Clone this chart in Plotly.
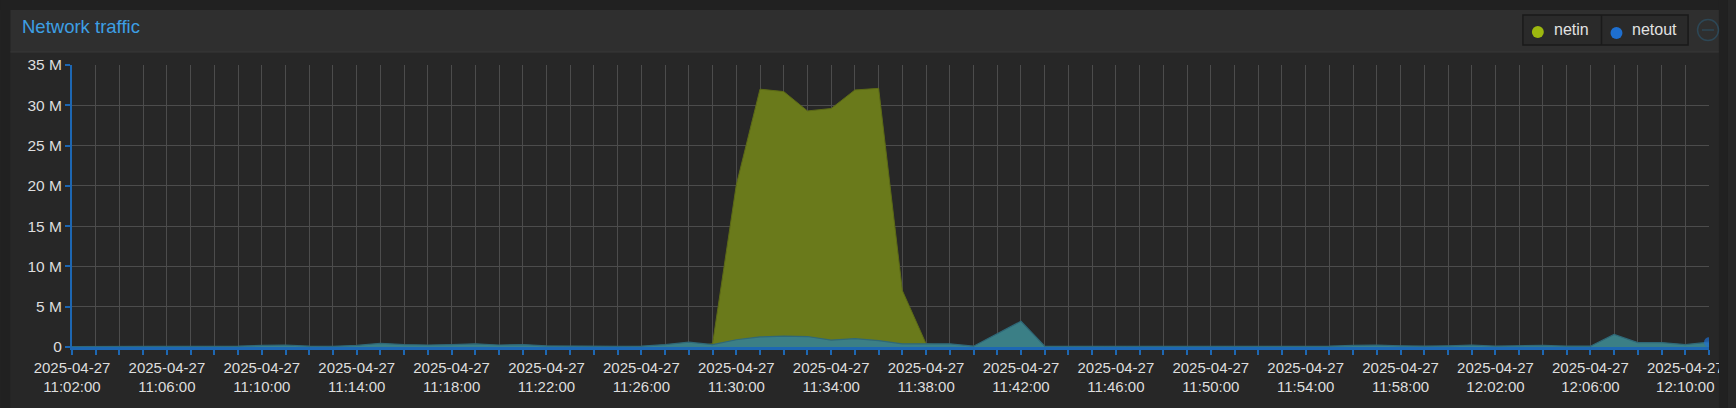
import plotly.graph_objects as go

# ---------------- data ----------------
times = [f"2025-04-27 {11 + (2 + i) // 60:02d}:{(2 + i) % 60:02d}:00" for i in range(70)]  # 11:02 .. 12:11

netin = [0.05, 0.05, 0.05, 0.05, 0.05, 0.05, 0.05, 0.05, 0.05, 0.05,   # 11:02-11:11
         0.05, 0.05, 0.05, 0.05, 0.05, 0.05, 0.05, 0.05, 0.05, 0.05,   # 11:12-11:21
         0.05, 0.05, 0.05, 0.05, 0.05, 0.05, 0.05, 0.4, 20.1, 32.0,    # 11:22-11:31
         31.7, 29.3, 29.6, 31.9, 32.1, 7.0, 0.4, 0.1, 0.05, 0.05,      # 11:32-11:41
         0.05, 0.05, 0.05, 0.05, 0.05, 0.05, 0.05, 0.05, 0.05, 0.05,   # 11:42-11:51
         0.05, 0.05, 0.05, 0.05, 0.05, 0.05, 0.05, 0.05, 0.05, 0.05,   # 11:52-12:01
         0.05, 0.05, 0.05, 0.05, 0.05, 0.05, 0.05, 0.05, 0.05, 0.05]   # 12:02-12:11

netout = [0.05, 0.05, 0.05, 0.05, 0.05, 0.05, 0.08, 0.1, 0.2, 0.25,   # 11:02-11:11
          0.1, 0.08, 0.2, 0.45, 0.3, 0.25, 0.3, 0.4, 0.25, 0.3,       # 11:12-11:21
          0.15, 0.1, 0.08, 0.08, 0.1, 0.3, 0.6, 0.3, 0.9, 1.25,       # 11:22-11:31
          1.35, 1.3, 0.85, 1.05, 0.8, 0.4, 0.4, 0.4, 0.1, 1.6,        # 11:32-11:41
          3.2, 0.1, 0.08, 0.08, 0.08, 0.08, 0.08, 0.08, 0.08, 0.08,   # 11:42-11:51
          0.08, 0.08, 0.08, 0.1, 0.2, 0.25, 0.15, 0.1, 0.15, 0.25,    # 11:52-12:01
          0.1, 0.15, 0.2, 0.1, 0.1, 1.55, 0.55, 0.55, 0.3, 0.6]       # 12:02-12:11

y_ticks = [0, 5, 10, 15, 20, 25, 30, 35]
y_ticktext = ["0", "5 M", "10 M", "15 M", "20 M", "25 M", "30 M", "35 M"]
x_tickvals = times[0:69:4]
x_ticktext = [t.replace(" ", "<br>") for t in x_tickvals]

title_text = "Network traffic"
legend_names = ["netin", "netout"]

# ---------------- style ----------------
W, H = 1736, 408
ML, MR, MT, MB = 72, 19, 65, 61
PW, PH = W - ML - MR, H - MT - MB
FONT = "Liberation Sans, Arial, sans-serif"

OUTER = "#212121"
HEADER = "#2f2f2f"
BODY = "#272727"
GRID = "#4c4c4c"
AXIS = "#1d67b3"
NETIN_FILL = "#6a7a1b"
NETIN_LINE = "#5c6a16"
NETOUT_FILL = "#3b7f86"
NETOUT_LINE = "#2f6878"
LX = 8  # legend horizontal offset


def px(x):
    return (x - ML) / PW


def py(y):
    return (H - MB - y) / PH


fig = go.Figure()
fig.add_trace(go.Scatter(x=times, y=netin, mode="lines", fill="tozeroy",
                         fillcolor=NETIN_FILL, line=dict(color=NETIN_LINE, width=1),
                         name=legend_names[0], showlegend=False, hoverinfo="skip"))
marker_sizes = [0] * (len(netout) - 1) + [10]
fig.add_trace(go.Scatter(x=times, y=netout, mode="lines+markers", fill="tozeroy",
                         fillcolor=NETOUT_FILL, line=dict(color=NETOUT_LINE, width=1.2),
                         marker=dict(size=marker_sizes, color="#1f6fd0", line=dict(width=0)),
                         cliponaxis=True,
                         name=legend_names[1], showlegend=False, hoverinfo="skip"))

shapes = []
# outer background pieces / panel
shapes.append(dict(type="rect", xref="paper", yref="paper", x0=px(10), x1=px(1727), y0=py(10), y1=py(52),
                   fillcolor=HEADER, line=dict(width=0), layer="below"))
shapes.append(dict(type="rect", xref="paper", yref="paper", x0=px(0), x1=px(10), y0=py(0), y1=py(H),
                   fillcolor=OUTER, line=dict(width=0), layer="below"))
shapes.append(dict(type="rect", xref="paper", yref="paper", x0=px(0), x1=px(W), y0=py(0), y1=py(10),
                   fillcolor=OUTER, line=dict(width=0), layer="below"))
shapes.append(dict(type="rect", xref="paper", yref="paper", x0=px(1727), x1=px(W), y0=py(0), y1=py(H),
                   fillcolor=OUTER, line=dict(width=0), layer="above"))
shapes.append(dict(type="line", xref="paper", yref="paper", x0=px(10), x1=px(1727), y0=py(52), y1=py(52),
                   line=dict(color="#383838", width=1), layer="below"))
# legend box
shapes.append(dict(type="rect", xref="paper", yref="paper", x0=px(1522 + LX), x1=px(1688 + LX), y0=py(15), y1=py(45),
                   fillcolor="#2a2a2a", line=dict(color="#1a1a1a", width=1.5)))
shapes.append(dict(type="line", xref="paper", yref="paper", x0=px(1601 + LX), x1=px(1601 + LX), y0=py(15), y1=py(45),
                   line=dict(color="#1a1a1a", width=1.5)))
shapes.append(dict(type="circle", xref="paper", yref="paper", x0=px(1531 + LX), x1=px(1543 + LX), y0=py(26), y1=py(38),
                   fillcolor="#9db80f", line=dict(width=0)))
shapes.append(dict(type="circle", xref="paper", yref="paper", x0=px(1610 + LX), x1=px(1622 + LX), y0=py(27), y1=py(39),
                   fillcolor="#1e6fcf", line=dict(width=0)))
# collapse icon
shapes.append(dict(type="circle", xref="paper", yref="paper", x0=px(1697.5 + LX), x1=px(1718.5 + LX), y0=py(19.5), y1=py(40.5),
                   fillcolor="rgba(0,0,0,0)", line=dict(color="#2d4756", width=1.5)))
shapes.append(dict(type="line", xref="paper", yref="paper", x0=px(1702 + LX), x1=px(1714 + LX), y0=py(30), y1=py(30),
                   line=dict(color="#2d4756", width=1.5)))

annotations = [
    dict(text=title_text, xref="paper", yref="paper", x=px(20), y=py(27), xanchor="left", yanchor="middle",
         showarrow=False, font=dict(family=FONT, size=18.5, color="#3d9fe4")),
    dict(text=legend_names[0], xref="paper", yref="paper", x=px(1551 + LX), y=py(29), xanchor="left", yanchor="middle",
         showarrow=False, font=dict(family=FONT, size=16, color="#e2e2e2")),
    dict(text=legend_names[1], xref="paper", yref="paper", x=px(1630 + LX), y=py(29), xanchor="left", yanchor="middle",
         showarrow=False, font=dict(family=FONT, size=16, color="#e2e2e2")),
]

fig.update_layout(
    width=W, height=H,
    margin=dict(l=ML, r=MR, t=MT, b=MB, pad=0),
    paper_bgcolor=BODY, plot_bgcolor=BODY,
    shapes=shapes, annotations=annotations, showlegend=False,
    font=dict(family=FONT, color="#dedede"),
)
fig.update_xaxes(
    type="date", range=[times[0], times[-1]],
    tickmode="array", tickvals=x_tickvals, ticktext=x_ticktext,
    tickfont=dict(family=FONT, size=15, color="#dedede"),
    showgrid=True, gridcolor=GRID, gridwidth=1,
    ticks="outside", ticklen=5, tickcolor=AXIS, tickwidth=1.5,
    minor=dict(dtick=60000, tick0=times[0], showgrid=True, gridcolor=GRID, gridwidth=1,
               ticks="outside", ticklen=5, tickcolor=AXIS, tickwidth=1.5),
    showline=True, linecolor=AXIS, linewidth=2.5,
    zeroline=False, fixedrange=True,
)
fig.update_yaxes(
    range=[0, 35], tickmode="array", tickvals=y_ticks, ticktext=y_ticktext,
    tickfont=dict(family=FONT, size=15.5, color="#dedede"),
    showgrid=True, gridcolor=GRID, gridwidth=1,
    ticks="outside", ticklen=5, tickcolor=AXIS, tickwidth=1.5,
    showline=True, linecolor=AXIS, linewidth=2,
    zeroline=False, fixedrange=True,
)

fig.write_html(
    "out.html",
    config={"displayModeBar": False},
    post_script="document.body.style.margin='0';document.body.style.background='" + OUTER + "';",
)
